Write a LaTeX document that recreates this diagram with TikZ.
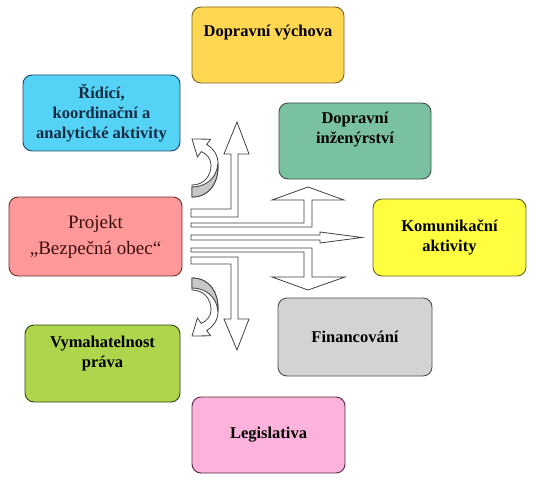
\documentclass[tikz,border=0pt]{standalone}
\usepackage{fontspec}
\setmainfont{Liberation Serif}
\usepackage{tikz}
\definecolor{vychovafill}{RGB}{255,215,80}
\definecolor{vychovaline}{RGB}{125,100,35}
\definecolor{ridicifill}{RGB}{85,211,246}
\definecolor{ridiciline}{RGB}{30,70,110}
\definecolor{inzfill}{RGB}{122,193,161}
\definecolor{inzline}{RGB}{60,82,72}
\definecolor{projfill}{RGB}{255,153,153}
\definecolor{projline}{RGB}{110,45,45}
\definecolor{projtext}{RGB}{60,15,15}
\definecolor{komfill}{RGB}{255,255,64}
\definecolor{komline}{RGB}{100,100,40}
\definecolor{finfill}{RGB}{211,211,211}
\definecolor{finline}{RGB}{80,80,80}
\definecolor{vymfill}{RGB}{173,214,76}
\definecolor{vymline}{RGB}{50,70,20}
\definecolor{legfill}{RGB}{251,179,220}
\definecolor{legline}{RGB}{90,40,70}
\definecolor{obrys}{RGB}{64,64,64}

\tikzset{
  box/.style={draw, rounded corners=9pt, line width=0.9pt, minimum width=152pt,
    minimum height=76pt, align=center, inner sep=2pt,
    font=\fontsize{16.5}{20}\selectfont\bfseries},
  sipka/.style={draw=obrys, fill=white, line width=0.8pt, line join=miter},
  krivka/.pic={
    \draw [sipka] (192,185) .. controls (204,185) and (211,176) .. (211,165)
      .. controls (211,159) and (207,154) .. (201.3,151.6)
      -- (197.4,156.8) -- (192,139) -- (210.6,139.2) -- (206.7,144.4)
      .. controls (213,148) and (218,155) .. (218,163)
      .. controls (219,182) and (210,197) .. (192,197) -- cycle;
    \draw [sipka, fill=black!22] (192,187) .. controls (206,187) and (217,178) .. (218,163)
      .. controls (219,182) and (210,197) .. (192,197) -- cycle;
  }
}

\begin{document}
\begin{tikzpicture}[x=1pt, y=-1pt]
\useasboundingbox (0,0) rectangle (540,481);

\node [box, fill=vychovafill, draw=vychovaline,
  label={[anchor=north, yshift=-18pt, inner sep=0pt, font=\fontsize{16.5}{20}\selectfont\bfseries]north:Dopravní výchova}]
  (vychova) at (268,45) {};
\node [box, fill=ridicifill, draw=ridiciline, minimum width=157pt, text=ridiciline!60!black]
  (ridici) at (101.5,113) {Řídící,\\koordinační a\\analytické aktivity};
\node [box, fill=inzfill, draw=inzline] (inzenyrstvi) at (355,141) {Dopravní\\inženýrství\\[6pt]};
\node [box, fill=projfill, draw=projline, minimum width=173pt, minimum height=79pt,
  text=projtext, font=\fontsize{19}{26}\selectfont]
  (projekt) at (95.5,236.5) {Projekt\\„Bezpečná obec“};
\node [box, fill=komfill, draw=komline, minimum width=153pt, minimum height=77pt]
  (komunikace) at (449.5,237.5) {Komunikační\\aktivity};
\node [box, fill=finfill, draw=finline, minimum width=154pt, minimum height=78pt]
  (financovani) at (355,337) {Financování};
\node [box, fill=vymfill, draw=vymline, minimum width=155pt, minimum height=77pt]
  (vymahatelnost) at (102.5,363.5) {Vymahatelnost\\práva\\[4pt]};
\node [box, fill=legfill, draw=legline, minimum width=153pt]
  (legislativa) at (268.5,435) {Legislativa};

\draw [sipka] (191,209) -- (231,209) -- (231,154) -- (224,154) -- (237,122) -- (249,154)
  -- (238,154) -- (238,217) -- (191,217) -- cycle;
\draw [sipka] (191,223) -- (304,223) -- (304,200) -- (272,200) -- (308,187) -- (344,200)
  -- (312,200) -- (312,227) -- (191,227) -- cycle;
\draw [sipka] (191,235) -- (320,235) -- (320,232) -- (362,237.5) -- (320,243)
  -- (320,240) -- (191,240) -- cycle;
\draw [sipka] (191,248) -- (312,248) -- (312,277) -- (345,277) -- (308,290) -- (272,277)
  -- (304,277) -- (304,252) -- (191,252) -- cycle;
\draw [sipka] (191,257) -- (238,257) -- (238,319) -- (249,319) -- (237,350) -- (224,319)
  -- (231,319) -- (231,264) -- (191,264) -- cycle;

\pic at (0,0) {krivka};
\pic [yscale=-1] at (0,475) {krivka};

\end{tikzpicture}
\end{document}
